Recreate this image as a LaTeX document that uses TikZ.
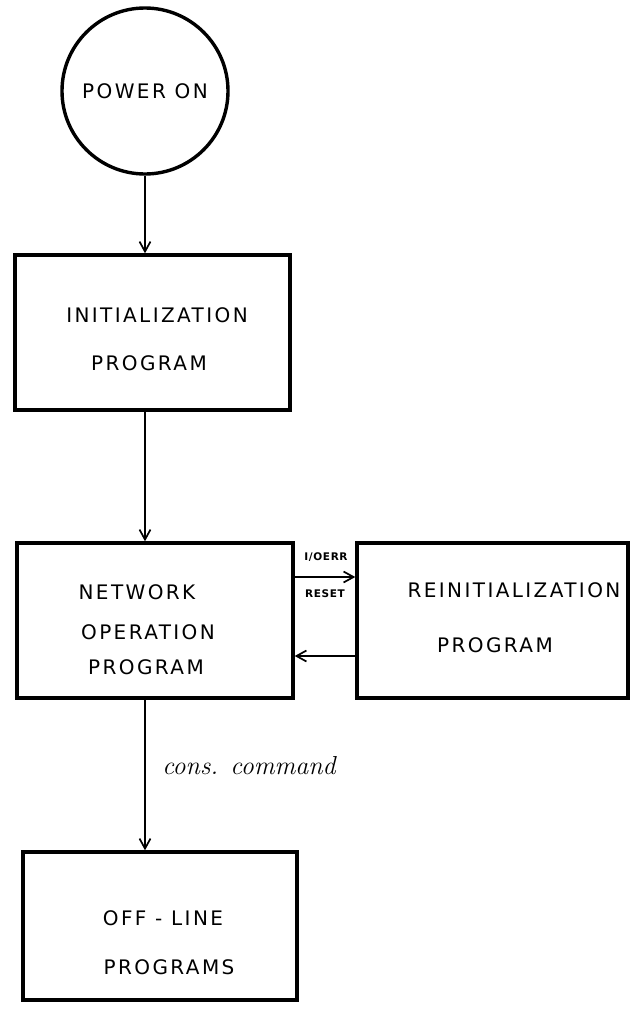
\documentclass[tikz,border=0pt]{standalone}
\usepackage{fontspec}
\newfontfamily\handfont[LetterSpace=12]{DejaVu Sans}
\newfontfamily\tagfont[LetterSpace=6]{DejaVu Sans Bold}
\usetikzlibrary{arrows.meta}
\begin{document}
\begin{tikzpicture}[x=1pt,y=-1pt,
  box/.style={draw, line width=3.4pt, inner sep=0pt},
  flow/.style={line width=1.7pt,
    -{Straight Barb[length=10pt,width=11pt,line width=1.7pt]}},
  caption/.style={inner sep=0pt, font=\handfont\fontsize{20}{20}\selectfont},
  tag/.style={inner sep=0pt, font=\tagfont\fontsize{10.5}{10.5}\selectfont},
  note/.style={inner sep=0pt, font=\fontsize{26}{26}\selectfont\itshape\addfontfeatures{LetterSpace=6}},
]
\useasboundingbox (0,0) rectangle (632,1009);

% start circle
\node[draw, circle, line width=3.4pt, minimum size=166pt, inner sep=0pt,
      font=\handfont\fontsize{20}{20}\selectfont] (power) at (145,91) {POWER ON};

% process boxes
\node[box, minimum width=275pt, minimum height=155pt] (init)   at (152.5,332.5) {};
\node[box, minimum width=276pt, minimum height=155pt] (net)    at (155,620.5) {};
\node[box, minimum width=271pt, minimum height=155pt] (reinit) at (492.5,620.5) {};
\node[box, minimum width=274pt, minimum height=148pt] (off)    at (160,926) {};

% box captions
\node[caption] (initA) at (157,315) {INITIALIZATION};
\node[caption] (initB) at (149,363) {PROGRAM};
\node[caption] (netA) at (137,592) {NETWORK};
\node[caption] (netB) at (148,632) {OPERATION};
\node[caption] (netC) at (146,667) {PROGRAM};
\node[caption] (reA) at (514,590) {REINITIALIZATION};
\node[caption] (reB) at (495,645) {PROGRAM};
\node[caption] (offA) at (163,918) {OFF - LINE};
\node[caption] (offB) at (169,967) {PROGRAMS};

% main flow
\draw[flow] (power.south) -- (power.south |- init.north);
\draw[flow] (init.south -| power.south) -- (net.north -| power.south);
\draw[flow] (net.south -| power.south) -- (off.north -| power.south);

% error / reset loop
\draw[flow] ([yshift=43.5pt]net.east) -- ([yshift=43.5pt]reinit.west);
\draw[flow] ([yshift=-35.5pt]reinit.west) -- ([yshift=-35.5pt]net.east);
\node[tag] (ioerr) at (326,557) {I/OERR};
\node[tag] (reset) at (325,594) {RESET};

% console command label
\node[note] (cons) at (249,766) {cons. command};
\end{tikzpicture}
\end{document}
